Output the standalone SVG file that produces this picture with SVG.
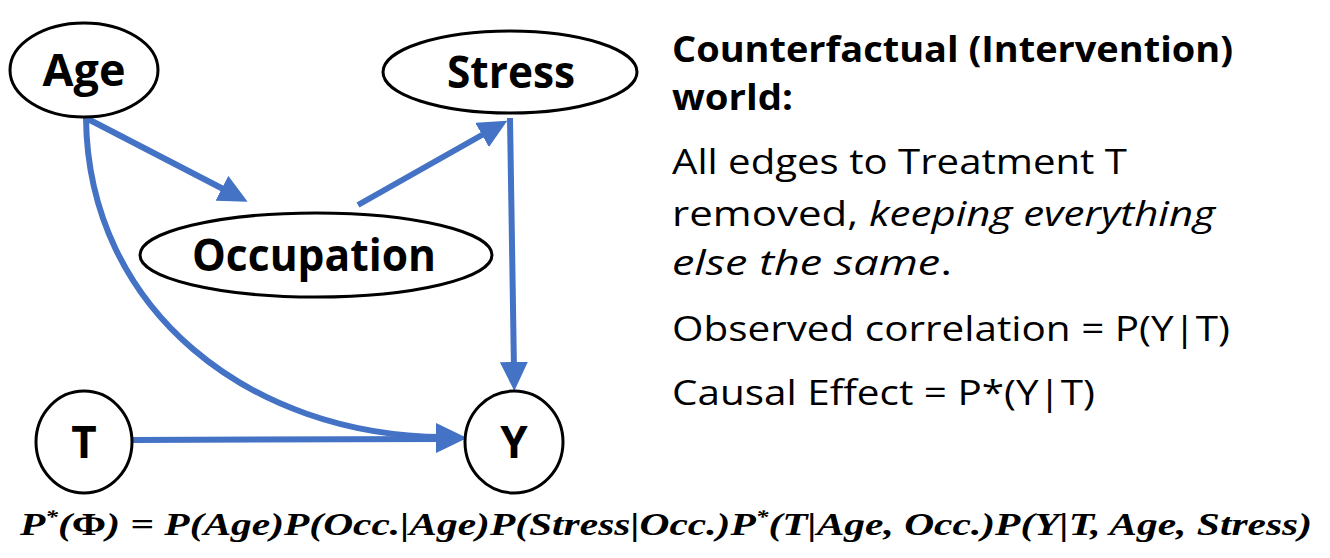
<svg xmlns="http://www.w3.org/2000/svg" width="1330" height="558" viewBox="0 0 1330 558">
<style>
.node{fill:#fff;stroke:#000;stroke-width:3}
.lbl{font-family:"Open Sans","Liberation Sans",sans-serif;font-weight:bold;font-size:44px;fill:#000;text-anchor:middle}
.edge{fill:none;stroke:#4472C4;stroke-width:6}
.txt{font-family:"Open Sans","Liberation Sans",sans-serif;font-size:35px;fill:#000}
.b{font-weight:bold}
.i{font-style:italic}
.math{font-family:"Liberation Serif",serif;font-weight:bold;font-style:italic;font-size:31px;fill:#000}
</style>
<defs>
<marker id="ah" markerUnits="userSpaceOnUse" markerWidth="30" markerHeight="28" refX="8" refY="14" orient="auto">
<path d="M0,0 L29,14 L0,28 Z" fill="#4472C4"/>
</marker>
</defs>
<g id="connectors">
<path class="edge" d="M86,118 L229,192" marker-end="url(#ah)"/>
<path class="edge" d="M358,205 L489,131" marker-end="url(#ah)"/>
<path class="edge" d="M510,118 L514,370" marker-end="url(#ah)"/>
<path class="edge" d="M86,118 C88,310 250,436 444,437" marker-end="url(#ah)"/>
<path class="edge" d="M133,440 L444,439" marker-end="url(#ah)"/>
</g>
<g id="node-age">
<ellipse class="node" cx="84" cy="70" rx="74" ry="47"/>
<text class="lbl" x="84" y="86" textLength="83" lengthAdjust="spacingAndGlyphs">Age</text>
</g>
<g id="node-stress">
<ellipse class="node" cx="510" cy="72" rx="127" ry="41"/>
<text class="lbl" x="511" y="88" textLength="128" lengthAdjust="spacingAndGlyphs">Stress</text>
</g>
<g id="node-occupation">
<ellipse class="node" cx="316" cy="255" rx="176" ry="42"/>
<text class="lbl" x="314" y="271" textLength="244" lengthAdjust="spacingAndGlyphs">Occupation</text>
</g>
<g id="node-t">
<ellipse class="node" cx="84" cy="442" rx="48" ry="51"/>
<text class="lbl" x="84" y="458">T</text>
</g>
<g id="node-y">
<ellipse class="node" cx="514" cy="442" rx="49" ry="51"/>
<text class="lbl" x="514" y="458">Y</text>
</g>
<g id="description">
<text class="txt b" x="672" y="62" textLength="561" lengthAdjust="spacingAndGlyphs">Counterfactual (Intervention)</text>
<text class="txt b" x="672" y="110" textLength="121" lengthAdjust="spacingAndGlyphs">world:</text>
<text class="txt" x="672" y="174" textLength="455" lengthAdjust="spacingAndGlyphs">All edges to Treatment T</text>
<text class="txt" x="672" y="226" textLength="543" lengthAdjust="spacingAndGlyphs">removed, <tspan class="i">keeping everything</tspan></text>
<text class="txt" x="672" y="275" textLength="280" lengthAdjust="spacingAndGlyphs"><tspan class="i">else the same</tspan>.</text>
<text class="txt" x="672" y="341" textLength="558" lengthAdjust="spacingAndGlyphs">Observed correlation = P(Y|T)</text>
<text class="txt" x="672" y="405" textLength="423" lengthAdjust="spacingAndGlyphs">Causal Effect = P*(Y|T)</text>
</g>
<g id="formula">
<text class="math" x="20" y="535" textLength="1292" lengthAdjust="spacingAndGlyphs">P<tspan font-size="19" dy="-12">*</tspan><tspan dy="12">(</tspan><tspan font-style="normal">Φ</tspan>) = P(Age)P(Occ.|Age)P(Stress|Occ.)P<tspan font-size="19" dy="-12">*</tspan><tspan dy="12">(T|Age, Occ.)P(Y|T, Age, Stress)</tspan></text>
</g>
</svg>
